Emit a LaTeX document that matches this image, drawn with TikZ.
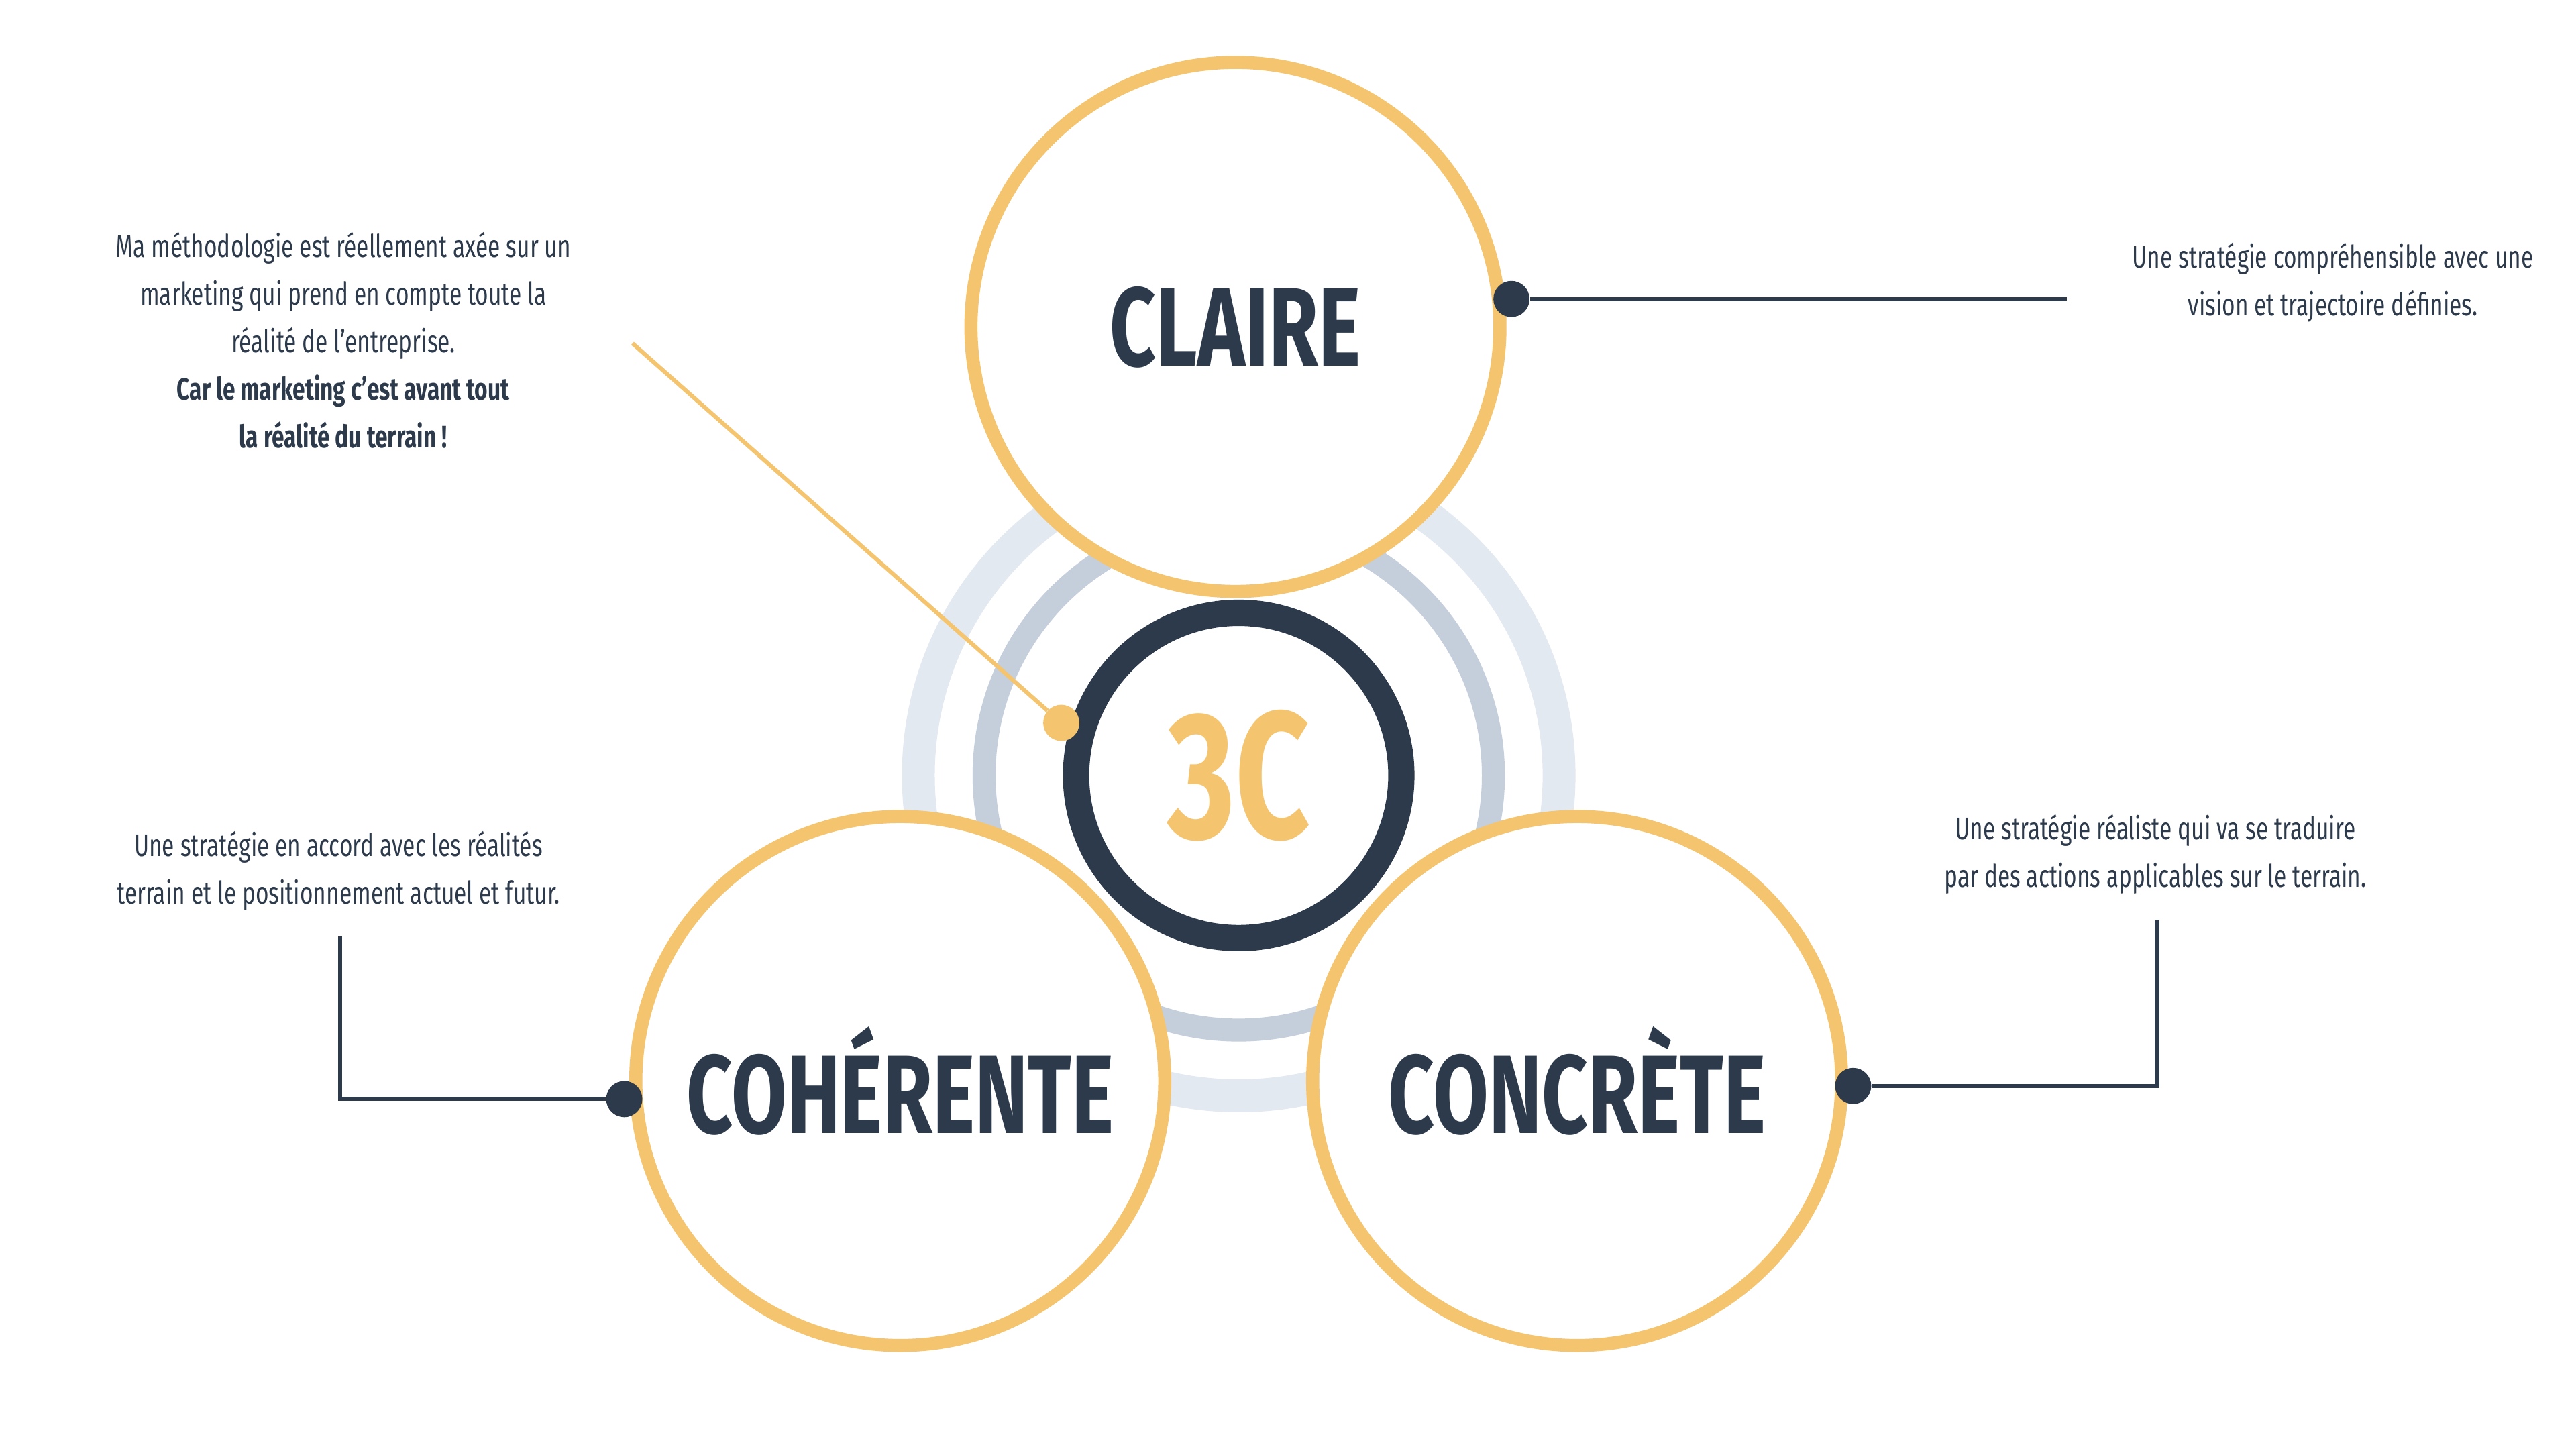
\documentclass[tikz,border=0pt]{standalone}
\usepackage{fontspec}
\setmainfont{Fira Sans}[FakeStretch=0.72]
\usetikzlibrary{positioning}
\definecolor{gold}{HTML}{F4C46F}
\definecolor{navy}{HTML}{2C3A4B}
\definecolor{ringa}{HTML}{E3E9F1}
\definecolor{ringb}{HTML}{C5CFDC}
\tikzset{
  big/.style={circle, draw=gold, line width=8pt, fill=white, minimum size=322pt, inner sep=0pt},
  title/.style={text=navy, font=\fontsize{68}{68}\selectfont\bfseries},
  desc/.style={text=navy, align=center, font=\fontsize{19}{29}\selectfont},
  dot/.style={circle, fill=navy, minimum size=22pt, inner sep=0pt},
  wire/.style={navy, line width=2.5pt}
}
\begin{document}
\begin{tikzpicture}[x=1pt,y=-1pt]
  \useasboundingbox (0,0) rectangle (1568,882);
  \fill[white] (0,0) rectangle (1568,882);

  % Rings
  \draw[ringa, line width=20pt] (754,472) circle (195);
  \draw[ringb, line width=14pt] (754,472) circle (155);

  % Circles
  \node[big] (claire) at (752,199) {};
  \node[big] (coh) at (548,658) {};
  \node[big] (conc) at (960,658) {};
  \node[title] at (claire.center) {CLAIRE};
  \node[title] at (coh.center) {COHÉRENTE};
  \node[title] at (conc.center) {CONCRÈTE};

  \node[circle, draw=navy, line width=16pt, minimum size=198pt, inner sep=0pt] (core) at (754,472) {};
  \node[text=gold, font=\fontsize{110}{110}\selectfont\bfseries] at (core.center) {3C};

  % Texts
  \node[desc] (tc) at (1420,172) {Une stratégie compréhensible avec une\\vision et trajectoire définies.};
  \node[desc] (th) at (206,530) {Une stratégie en accord avec les réalités\\terrain et le positionnement actuel et futur.};
  \node[desc] (tr) at (1312,520) {Une stratégie réaliste qui va se traduire\\par des actions applicables sur le terrain.};
  \node[desc] (tm) at (209,207) {Ma méthodologie est réellement axée sur un\\marketing qui prend en compte toute la\\réalité de l'entreprise.\\\textbf{Car le marketing c'est avant tout}\\\textbf{la réalité du terrain !}};

  % Connectors
  \node[dot] (dc) at (920,182) {};
  \coordinate (ec) at (1258,182);
  \draw[wire] (dc) -- (ec);
  \node[dot] (dh) at (380,669) {};
  \coordinate (eh) at (207,570);
  \draw[wire] (dh) -| (eh);
  \node[dot] (dr) at (1128,661) {};
  \coordinate (er) at (1313,560);
  \draw[wire] (dr) -| (er);
  \node[dot, fill=gold] (dm) at (646,440) {};
  \coordinate (em) at (385,209);
  \draw[gold, line width=2.5pt] (dm) -- (em);
\end{tikzpicture}
\end{document}
